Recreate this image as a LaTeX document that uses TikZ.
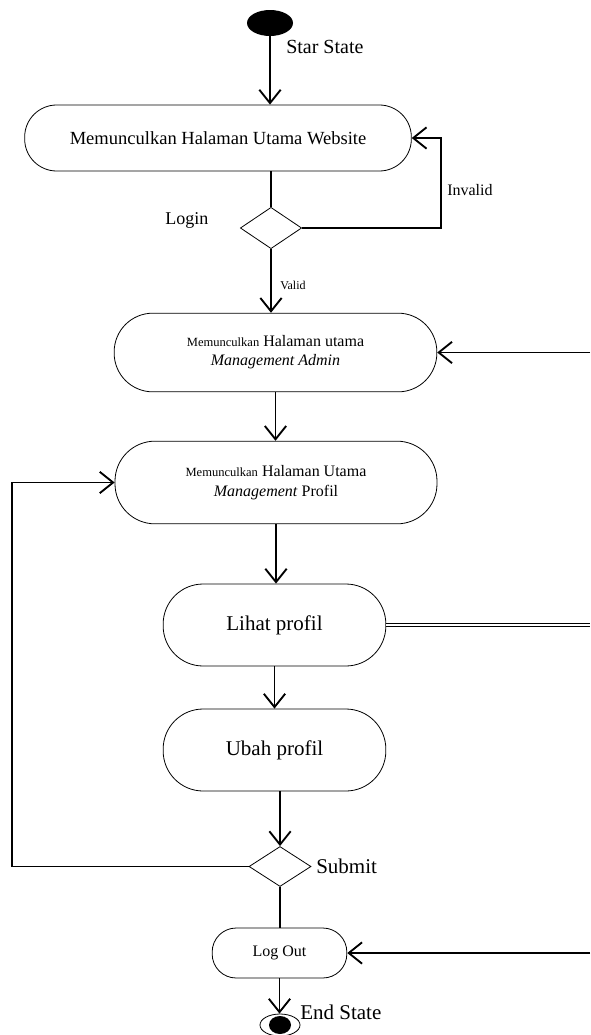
\documentclass[tikz,border=0pt]{standalone}
\usepackage{fontspec}
\setmainfont{Liberation Serif}
\usetikzlibrary{shapes, arrows.meta, positioning, calc}

\begin{document}
\begin{tikzpicture}[x=0.75pt, y=-0.75pt,
        activity/.style={draw, line width=0.6pt, rounded corners=#1, inner sep=0pt, align=center},
        decision/.style={draw, diamond, line width=0.6pt, inner sep=0pt, minimum width=46pt, minimum height=31pt},
        flow/.style={line width=1.4pt, -{Straight Barb[length=10pt, width=16pt]}},
        link/.style={line width=1.1pt},
        dbl/.style={draw, line width=0.7pt, double distance=1.3pt},
        tag/.style={anchor=west, inner sep=0pt}]
                \useasboundingbox (0,0) rectangle (590,1035);

                % Start
                \node[fill, ellipse, minimum width=34.5pt, minimum height=19.5pt, inner sep=0pt] (start) at (270,23) {};
                \node[tag, font=\fontsize{15}{18}\selectfont] (startlbl) at (286,47) {Star State};

                % Halaman utama website
                \node[activity=24pt, minimum width=290pt, minimum height=49.5pt, font=\fontsize{13.9}{16}\selectfont] (web) at (218,138) {Memunculkan Halaman Utama Website};

                % Login
                \node[decision] (login) at (271,228) {};
                \node[tag, font=\fontsize{13.5}{16}\selectfont] (loginlbl) at (165,220) {Login};
                \coordinate (invx) at (441,0);
                \node[tag, font=\fontsize{12}{14}\selectfont] (invlbl) at (447,190) {Invalid};
                \node[tag, font=\fontsize{9}{11}\selectfont] (vallbl) at (280,285) {Valid};

                % Management Admin
                \node[activity=29pt, minimum width=242pt, minimum height=59pt, font=\fontsize{12}{14.3}\selectfont] (admin) at (275.5,352.5) {{\fontsize{9.4}{11}\selectfont Memunculkan} Halaman utama\\\textit{Management Admin}};
                \coordinate (adminin) at (590,352.5);

                % Management Profil
                \node[activity=30pt, minimum width=241.5pt, minimum height=62pt, font=\fontsize{12}{15}\selectfont] (profil) at (276,482.5) {{\fontsize{9.4}{11}\selectfont Memunculkan} Halaman Utama\\\textit{Management} Profil};
                \coordinate (loopx) at (12,0);

                % Lihat / Ubah
                \node[activity=30pt, minimum width=167pt, minimum height=61.5pt, font=\fontsize{15.75}{18}\selectfont] (lihat) at (274.5,625) {Lihat profil};
                \coordinate (lihatout) at (590,625);
                \node[activity=30pt, minimum width=167pt, minimum height=61.5pt, font=\fontsize{15.75}{18}\selectfont] (ubah) at (274.5,750) {Ubah profil};

                % Submit
                \node[decision, minimum width=46.5pt, minimum height=30pt] (submit) at (280,866.5) {};
                \node[tag, font=\fontsize{15.75}{18}\selectfont] (sublbl) at (316,866) {Submit};

                % Log Out
                \node[activity=18pt, minimum width=101pt, minimum height=37.5pt, font=\fontsize{12}{14}\selectfont] (logout) at (279.5,953) {Log Out};
                \coordinate (logoutin) at (590,953);

                % End
                \node[draw, ellipse, line width=0.6pt, minimum width=30pt, minimum height=16.5pt, inner sep=0pt] (end) at (280,1025) {};
                \node[fill, ellipse, minimum width=16.5pt, minimum height=13.5pt, inner sep=0pt] (enddot) at (end) {};
                \node[tag, font=\fontsize{15.75}{18}\selectfont] (endlbl) at (300,1012) {End State};

                % connectors
                \draw[flow] (start.south) -- (start.south |- web.north);
                \draw[link] (login.north |- web.south) -- (login.north);
                \draw[flow] (login.east) -- (login.east -| invx) |- (web.east);
                \draw[flow] (login.south) -- (login.south |- admin.north);
                \draw[flow] (adminin) -- (admin.east);
                \draw[flow] (admin.south) -- (admin.south |- profil.north);
                \draw[flow] (profil.south) -- (profil.south |- lihat.north);
                \draw[dbl] (lihat.east) -- (lihatout);
                \draw[flow] (lihat.south) -- (lihat.south |- ubah.north);
                \draw[flow] (ubah.south -| submit) -- (submit.north);
                \draw[flow] (submit.west) -- (submit.west -| loopx) |- (profil.west);
                \draw[line width=0.8pt] (submit.south) -- (submit.south |- logout.north);
                \draw[flow] (logoutin) -- (logout.east);
                \draw[flow] (logout.south) -- (logout.south |- end.north);
            \end{tikzpicture}
\end{document}
